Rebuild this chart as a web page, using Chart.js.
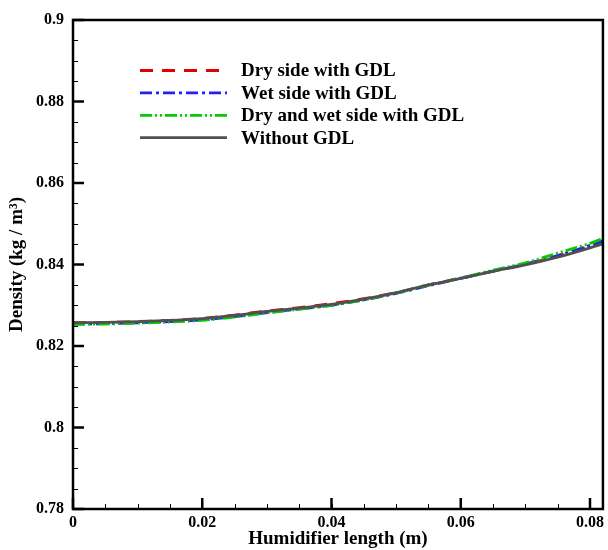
<!DOCTYPE html>
<html>
<head>
<meta charset="utf-8">
<script src="https://cdn.jsdelivr.net/npm/chart.js@4"></script>
<style>
  html, body { margin: 0; padding: 0; background: #fff; }
  #wrap { width: 608px; height: 550px; }
</style>
</head>
<body>
<div id="wrap"><canvas id="densityChart" width="608" height="550"></canvas></div>
<script>
// humidifier length (m)
const lengths = [0, 0.005, 0.01, 0.015, 0.02, 0.025, 0.03, 0.035, 0.04, 0.045, 0.05, 0.055, 0.06, 0.065, 0.07, 0.075, 0.08, 0.082];

// density (kg/m3) for each case
const drySide = [0.8257, 0.8258, 0.8260, 0.8263, 0.8268, 0.8276, 0.8286, 0.8294, 0.8304, 0.8316, 0.8331, 0.8350, 0.8366, 0.8384, 0.8401, 0.8421, 0.8446, 0.8457];
const wetSide = [0.8254, 0.8255, 0.8257, 0.8260, 0.8264, 0.8272, 0.8282, 0.8291, 0.8300, 0.8313, 0.8329, 0.8348, 0.8366, 0.8384, 0.8401, 0.8422, 0.8447, 0.8458];
const dryWetSide = [0.8253, 0.8254, 0.8256, 0.8259, 0.8263, 0.8271, 0.8281, 0.8290, 0.8300, 0.8313, 0.8330, 0.8349, 0.8367, 0.8386, 0.8404, 0.8428, 0.8452, 0.8464];
const withoutGdl = [0.8257, 0.8258, 0.8260, 0.8263, 0.8267, 0.8275, 0.8285, 0.8293, 0.8302, 0.8315, 0.8331, 0.8350, 0.8366, 0.8383, 0.8399, 0.8418, 0.8441, 0.8451];

const seriesNames = ['Dry side with GDL', 'Wet side with GDL', 'Dry and wet side with GDL', 'Without GDL'];

const xTicks = [0, 0.02, 0.04, 0.06, 0.08];
const yTicks = [0.78, 0.8, 0.82, 0.84, 0.86, 0.88, 0.9];

const serif = '"Liberation Serif", "Times New Roman", serif';

function toPoints(vals) {
    return lengths.map((x, i) => ({ x: x, y: vals[i] }));
}

// inward ticks, frame and legend drawn on top of the plot
const framePlugin = {
    id: 'frame',
    afterDraw(chart) {
        const ctx = chart.ctx;
        const a = chart.chartArea;
        const xs = chart.scales.x;
        const ys = chart.scales.y;
        ctx.save();
        ctx.strokeStyle = '#000';

        // minor ticks
        ctx.lineWidth = 1;
        for (let v = 0; v <= 0.0821; v += 0.005) {
            const px = Math.round(xs.getPixelForValue(v)) + 0.5;
            ctx.beginPath();
            ctx.moveTo(px, a.bottom);
            ctx.lineTo(px, a.bottom - 5);
            ctx.stroke();
        }
        for (let v = 0.78; v <= 0.9001; v += 0.005) {
            const py = Math.round(ys.getPixelForValue(v)) + 0.5;
            ctx.beginPath();
            ctx.moveTo(a.left, py);
            ctx.lineTo(a.left + 5, py);
            ctx.stroke();
        }

        // major ticks
        ctx.lineWidth = 2.5;
        xTicks.forEach(v => {
            const px = xs.getPixelForValue(v);
            ctx.beginPath();
            ctx.moveTo(px, a.bottom);
            ctx.lineTo(px, a.bottom - 11);
            ctx.stroke();
        });
        yTicks.forEach(v => {
            const py = ys.getPixelForValue(v);
            ctx.beginPath();
            ctx.moveTo(a.left, py);
            ctx.lineTo(a.left + 11, py);
            ctx.stroke();
        });

        // frame
        ctx.lineWidth = 2.5;
        ctx.strokeRect(a.left, a.top, a.right - a.left, a.bottom - a.top);

        // legend
        ctx.font = 'bold 19px ' + serif;
        ctx.textBaseline = 'middle';
        ctx.fillStyle = '#000';
        chart.data.datasets.forEach((ds, i) => {
            const y = 70.5 + i * 22.4;
            ctx.strokeStyle = ds.borderColor;
            ctx.lineWidth = ds.borderWidth;
            ctx.setLineDash(ds.borderDash || []);
            ctx.beginPath();
            ctx.moveTo(140, y);
            ctx.lineTo(227, y);
            ctx.stroke();
            ctx.setLineDash([]);
            ctx.fillText(ds.label, 241, y + 1);
        });
        ctx.restore();
    }
};

// gray curve on top, coloured ones underneath (lower order = drawn on top)
const data = {
    datasets: [
        {
            label: seriesNames[0],
            data: toPoints(drySide),
            borderColor: '#e00000',
            borderWidth: 2.8,
            borderDash: [13, 9],
            order: 3
        },
        {
            label: seriesNames[1],
            data: toPoints(wetSide),
            borderColor: '#2020ff',
            borderWidth: 2.8,
            borderDash: [12, 4, 3, 4],
            order: 2
        },
        {
            label: seriesNames[2],
            data: toPoints(dryWetSide),
            borderColor: '#00cc00',
            borderWidth: 2.8,
            borderDash: [12, 3, 2, 3, 2, 3],
            order: 1
        },
        {
            label: seriesNames[3],
            data: toPoints(withoutGdl),
            borderColor: '#505050',
            borderWidth: 2.8,
            order: 0
        }
    ]
};

const config = {
    type: 'line',
    data,
    plugins: [framePlugin],
    options: {
        responsive: false,
        animation: false,
        layout: { padding: { top: 20, right: -1, left: 0, bottom: 0 } },
        elements: { point: { radius: 0 }, line: { tension: 0.4, cubicInterpolationMode: 'monotone' } },
        plugins: {
            legend: { display: false },
            tooltip: { enabled: false }
        },
        scales: {
            x: {
                type: 'linear',
                min: 0,
                max: 0.082,
                afterFit: s => { s.height = 41; },
                afterBuildTicks: s => { s.ticks = xTicks.map(v => ({ value: v })); },
                grid: { display: false, drawTicks: false, tickLength: 0 },
                border: { display: false },
                ticks: {
                    padding: 4,
                    color: '#000',
                    maxRotation: 0,
                    font: { family: serif, size: 16, weight: 'bold' },
                    callback: v => String(v)
                },
                title: {
                    display: true,
                    text: 'Humidifier length (m)',
                    color: '#000',
                    padding: { top: 0, bottom: 0 },
                    font: { family: serif, size: 19, weight: 'bold' }
                }
            },
            y: {
                type: 'linear',
                min: 0.78,
                max: 0.9,
                afterFit: s => { s.width = 73; },
                afterBuildTicks: s => { s.ticks = yTicks.map(v => ({ value: v })); },
                grid: { display: false, drawTicks: false, tickLength: 0 },
                border: { display: false },
                ticks: {
                    padding: 9,
                    color: '#000',
                    font: { family: serif, size: 16, weight: 'bold' },
                    callback: v => String(Math.round(v * 100) / 100)
                },
                title: {
                    display: true,
                    text: 'Density (kg / m³)',
                    color: '#000',
                    padding: { top: 6, bottom: 0 },
                    font: { family: serif, size: 19, weight: 'bold' }
                }
            }
        }
    }
};

new Chart(document.getElementById('densityChart'), config);
</script>
</body>
</html>
